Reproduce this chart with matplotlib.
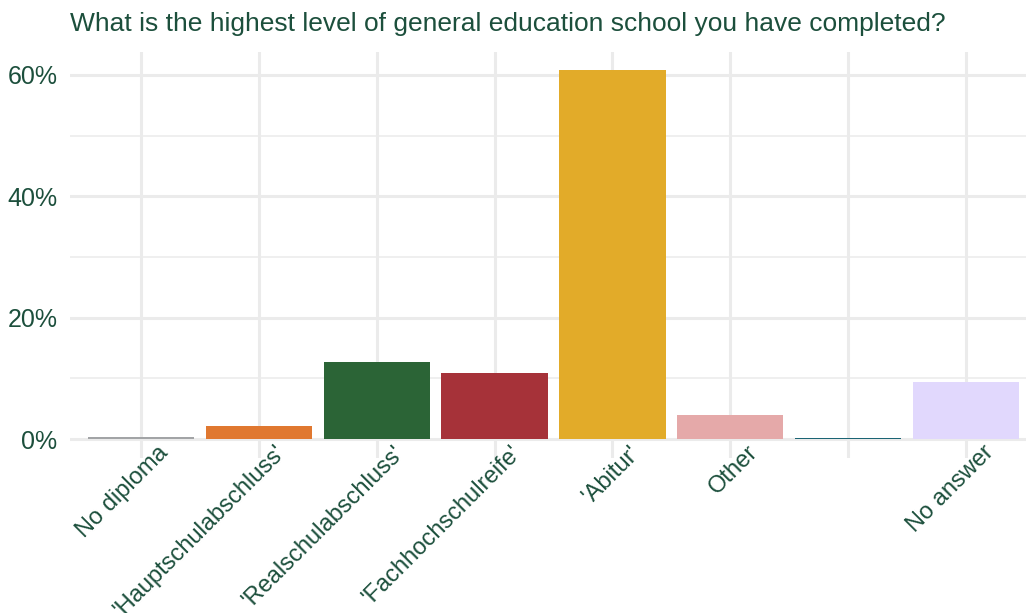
import matplotlib
matplotlib.use('Agg')
import matplotlib.pyplot as plt
from matplotlib.ticker import FuncFormatter, MultipleLocator
import matplotlib.transforms as mtransforms

# data
categories = ["No diploma", "'Hauptschulabschluss'", "'Realschulabschluss'",
              "'Fachhochschulreife'", "'Abitur'", "Other", "", "No answer"]
shares = [0.3, 2.1, 12.7, 10.9, 60.8, 4.0, 0.15, 9.4]
colors = ["#a2a4a6", "#e07830", "#2b6436", "#a63239",
          "#e2ab29", "#e5a9a9", "#1b6474", "#e1d8fd"]

text_col = "#1c4f3c"
grid_col = "#ebebeb"

plt.rcParams['font.family'] = ['Liberation Sans', 'DejaVu Sans']

fig = plt.figure(figsize=(10.26, 6.13), dpi=100)
# panel runs a little past the right edge, as in the reference
ax = fig.add_axes([70 / 1026, 155.5 / 613, 967 / 1026, 406 / 613])

x = list(range(len(categories)))
ax.bar(x, shares, width=0.9, color=colors, zorder=3)

top = max(shares) * 1.05
ax.set_xlim(-0.6, len(categories) - 0.4)
ax.set_ylim(-max(shares) * 0.05, top)

ax.yaxis.set_major_locator(MultipleLocator(20))
ax.yaxis.set_minor_locator(MultipleLocator(10))
ax.yaxis.set_major_formatter(FuncFormatter(lambda v, p: f"{v:.0f}%"))
ax.set_xticks(x)
ax.set_xticklabels(categories, rotation=45, ha='right', va='top',
                   rotation_mode='anchor')

ax.grid(True, which='major', color=grid_col, linewidth=2.2, zorder=0)
ax.grid(True, which='minor', axis='y', color=grid_col, linewidth=1.1, zorder=0)
ax.set_axisbelow(True)

for s in ax.spines.values():
    s.set_visible(False)
ax.tick_params(which='both', length=0)
ax.tick_params(axis='y', labelsize=18, labelcolor=text_col, pad=9)
ax.tick_params(axis='x', labelsize=17, labelcolor=text_col, pad=0)

shift = mtransforms.ScaledTranslation(16 / 100, 16 / 100, fig.dpi_scale_trans)
for lab in ax.get_xticklabels():
    lab.set_transform(lab.get_transform() + shift)

fig.text(70 / 1026, 1 - 31 / 613,
         "What is the highest level of general education school you have completed?",
         fontsize=19, color=text_col, ha='left', va='baseline')

fig.savefig("out.png", dpi=100)
